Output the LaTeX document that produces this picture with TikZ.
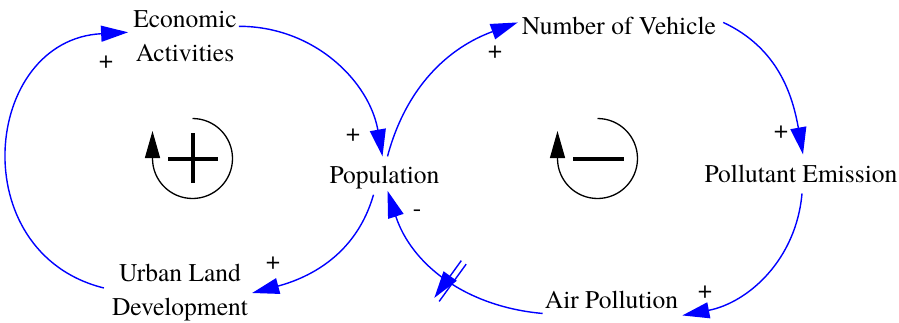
\documentclass[tikz,border=0pt]{standalone}
\usepackage{fontspec}
\setmainfont{texgyretermes}[Extension=.otf,UprightFont=*-regular]
\usetikzlibrary{arrows.meta,decorations.markings}

\begin{document}
\begin{tikzpicture}[
  x=1pt,y=1pt,
  font=\fontsize{25.5}{34}\selectfont,
  var/.style={inner sep=2pt,align=center},
  pol/.style={inner sep=0pt},
  link/.style={-{Triangle[length=27pt,width=16pt]},blue,line width=1.4pt},
  delay/.style={postaction={decorate,decoration={markings,
    mark=at position #1 with {\draw[blue,line width=1.4pt]
      (-3,-23)--(-3,23) (3,-23)--(3,23);}}}},
  loopsym/.style={-{Triangle[length=27pt,width=15pt]},black,line width=1.3pt},
  sign/.style={black,line width=3.2pt}
]
  \useasboundingbox (0,0) rectangle (899,322);
  % Variables
  \node[var]             (econ)  at (185,285.7) {Economic\\Activities};
  \node[var,anchor=base] (pop)   at (384.5,139) {Population};
  \node[var]             (urban) at (180,29)    {Urban Land\\Development};
  \node[var,anchor=base] (veh)   at (619,287)   {Number of Vehicle};
  \node[var,anchor=base] (emis)  at (801,140)   {Pollutant Emission};
  \node[var,anchor=base] (air)   at (611.5,14)  {Air Pollution};
  % Polarities
  \node[pol] (p1) at (106,260) {+};
  \node[pol] (p2) at (353,187) {+};
  \node[pol] (p3) at (273,59)  {+};
  \node[pol] (p4) at (495,270) {+};
  \node[pol] (p5) at (781,190) {+};
  \node[pol] (p6) at (705,30)  {+};
  \node[pol] (p7) at (417,109) {-};
  % Reinforcing loop
  \draw[link] ([yshift=10pt]econ.east) to[out=0,in=100]
    ([shift={(-2,7)}]pop.north);
  \draw[link] ([shift={(-11,-4)}]pop.south) to[out=-106,in=15]
    ([xshift=2pt]urban.east);
  \draw[link] ([shift={(-6,5)}]urban.west) to[out=166,in=183,looseness=1.45]
    ([shift={(-3,4)}]econ.west);
  % Balancing loop
  \draw[link] ([shift={(3,7)}]pop.north) to[out=75,in=200]
    ([shift={(-2,4)}]veh.west);
  \draw[link] ([shift={(5,4)}]veh.east) to[out=-25,in=100]
    ([shift={(2,8)}]emis.north);
  \draw[link] ([shift={(1,-9)}]emis.south) to[out=-95,in=11]
    ([shift={(2,-5)}]air.south east);
  \draw[link,delay=0.47] ([yshift=-3pt]air.south west) to[out=175,in=-72]
    ([xshift=3pt]pop.south);
  % Loop symbols
  \draw[loopsym] (192.5,163.5) ++(90:40) arc[start angle=90,end angle=-180,radius=40]
    -- ++(0,27.5);
  \draw[sign] (168,163) -- (218,163) (193,139) -- (193,189);
  \draw[loopsym] (597.5,163.5) ++(90:40) arc[start angle=90,end angle=-180,radius=40]
    -- ++(0,27.5);
  \draw[sign] (573,163) -- (624,163);
\end{tikzpicture}
\end{document}
